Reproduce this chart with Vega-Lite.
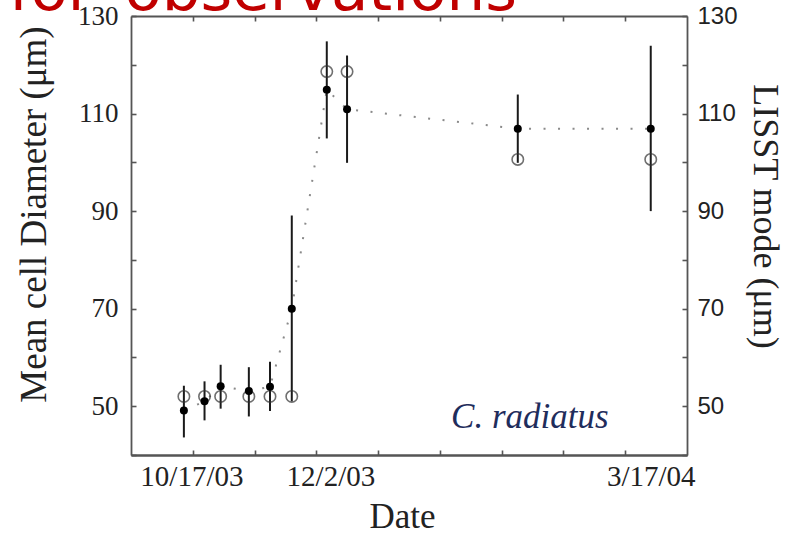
{
  "$schema": "https://vega.github.io/schema/vega-lite/v6.json",
  "width": 556,
  "height": 439,
  "autosize": {"type": "none"},
  "padding": {"left": 131, "top": 16, "right": 105, "bottom": 78},
  "background": "white",
  "title": {
    "text": "Mean cell size for \u2009observations",
    "anchor": "start",
    "frame": "group",
    "align": "right",
    "dx": 386,
    "dy": 69,
    "offset": 0,
    "baseline": "alphabetic",
    "font": "DejaVu Sans",
    "fontSize": 61,
    "fontWeight": "normal",
    "color": "#c00000"
  },
  "config": {
    "view": {"stroke": null},
    "axis": {
      "grid": false,
      "domainColor": "#555555",
      "domainWidth": 1.8,
      "tickColor": "#555555",
      "tickWidth": 1.6,
      "labelColor": "#222222",
      "titleColor": "#222222",
      "titleFontWeight": "normal",
      "labelOverlap": false,
      "labelFlush": false,
      "labelBound": false
    }
  },
  "data": {
    "values": [
      {"date": "2003-10-14T12:00", "mean": 49.1, "lo": 43.6, "hi": 54.2, "lisst": 52.0},
      {"date": "2003-10-21T08:00", "mean": 51.0, "lo": 47.1, "hi": 55.1, "lisst": 52.0},
      {"date": "2003-10-26T16:00", "mean": 54.1, "lo": 49.5, "hi": 58.5, "lisst": 52.0},
      {"date": "2003-11-05T00:00", "mean": 53.1, "lo": 47.9, "hi": 58.0, "lisst": 52.0},
      {"date": "2003-11-12T00:00", "mean": 54.0, "lo": 49.0, "hi": 59.1, "lisst": 52.0},
      {"date": "2003-11-19T05:00", "mean": 70.0, "lo": 51.0, "hi": 89.1, "lisst": 52.0},
      {"date": "2003-11-30T19:00", "mean": 114.9, "lo": 104.9, "hi": 124.8, "lisst": 118.6},
      {"date": "2003-12-07T12:00", "mean": 110.9, "lo": 99.9, "hi": 121.9, "lisst": 118.6},
      {"date": "2004-02-02T00:00", "mean": 106.9, "lo": 99.9, "hi": 113.9, "lisst": 100.6},
      {"date": "2004-03-17T00:00", "mean": 106.9, "lo": 90.0, "hi": 123.9, "lisst": 100.6}
    ]
  },
  "layer": [
    {
      "mark": {"type": "line", "color": "#8a8a8a", "strokeWidth": 2, "strokeDash": [2, 12.5], "strokeCap": "butt"},
      "encoding": {
        "x": {
          "field": "date", "type": "temporal",
          "scale": {"domain": [{"year": 2003, "month": 9, "date": 27}, {"year": 2004, "month": 3, "date": 29}]},
          "axis": {
            "orient": "bottom",
            "values": [
              {"year": 2003, "month": 10, "date": 17},
              {"year": 2003, "month": 12, "date": 2},
              {"year": 2004, "month": 3, "date": 17}
            ],
            "format": "%-m/%-d/%y",
            "ticks": false,
            "labelPadding": 7,
            "labelFont": "Liberation Serif",
            "labelFontSize": 29,
            "title": "Date",
            "titleFont": "Liberation Serif",
            "titleFontSize": 35,
            "titleX": 271,
            "titleY": 72,
            "titleBaseline": "alphabetic",
            "titleAlign": "center"
          }
        },
        "y": {
          "field": "mean", "type": "quantitative",
          "scale": {"domain": [40, 130], "nice": false, "zero": false},
          "axis": {
            "orient": "left",
            "values": [40, 50, 60, 70, 80, 90, 100, 110, 120, 130],
            "labelExpr": "datum.value % 20 == 10 ? datum.label : ''",
            "tickSize": -5,
            "labelPadding": 18,
            "labelFont": "Liberation Serif",
            "labelFontSize": 27,
            "title": "Mean cell Diameter (μm)",
            "titleFont": "Liberation Serif",
            "titleFontSize": 37,
            "titleAngle": -90,
            "titleX": -86,
            "titleY": 198,
            "titleBaseline": "alphabetic",
            "titleAlign": "center"
          }
        }
      }
    },
    {
      "mark": {"type": "rule", "color": "#1a1a1a", "strokeWidth": 2},
      "encoding": {
        "x": {
          "field": "date", "type": "temporal",
          "scale": {"domain": [{"year": 2003, "month": 9, "date": 27}, {"year": 2004, "month": 3, "date": 29}]},
          "axis": {
            "orient": "bottom",
            "values": [
              {"year": 2003, "month": 10, "date": 17, "hours": 10, "minutes": 40},
              {"year": 2003, "month": 11, "date": 6, "hours": 21, "minutes": 20},
              {"year": 2003, "month": 11, "date": 27, "hours": 8},
              {"year": 2003, "month": 12, "date": 17, "hours": 18, "minutes": 40},
              {"year": 2004, "month": 1, "date": 7, "hours": 5, "minutes": 20},
              {"year": 2004, "month": 1, "date": 27, "hours": 16},
              {"year": 2004, "month": 2, "date": 17, "hours": 2, "minutes": 40},
              {"year": 2004, "month": 3, "date": 8, "hours": 13, "minutes": 20}
            ],
            "labels": false,
            "tickSize": -5,
            "title": null
          }
        },
        "y": {
          "field": "lo", "type": "quantitative",
          "scale": {"domain": [40, 130], "nice": false, "zero": false},
          "axis": {
            "orient": "right",
            "values": [40, 50, 60, 70, 80, 90, 100, 110, 120, 130],
            "labelExpr": "datum.value % 20 == 10 ? datum.label : ''",
            "tickSize": -5,
            "labelPadding": 15,
            "labelFont": "Liberation Sans",
            "labelFontSize": 24,
            "title": "LISST mode (μm)",
            "titleFont": "Liberation Serif",
            "titleFontSize": 36,
            "titleAngle": 90,
            "titleX": 66,
            "titleY": 200,
            "titleBaseline": "alphabetic",
            "titleAlign": "center"
          }
        },
        "y2": {"field": "hi"}
      }
    },
    {
      "mark": {"type": "point", "shape": "circle", "filled": false, "size": 130, "stroke": "#333333", "strokeWidth": 1.6},
      "encoding": {
        "x": {
          "field": "date", "type": "temporal",
          "scale": {"domain": [{"year": 2003, "month": 9, "date": 27}, {"year": 2004, "month": 3, "date": 29}]},
          "axis": {
            "orient": "top",
            "values": [
              {"year": 2003, "month": 10, "date": 17, "hours": 10, "minutes": 40},
              {"year": 2003, "month": 11, "date": 6, "hours": 21, "minutes": 20},
              {"year": 2003, "month": 11, "date": 27, "hours": 8},
              {"year": 2003, "month": 12, "date": 17, "hours": 18, "minutes": 40},
              {"year": 2004, "month": 1, "date": 7, "hours": 5, "minutes": 20},
              {"year": 2004, "month": 1, "date": 27, "hours": 16},
              {"year": 2004, "month": 2, "date": 17, "hours": 2, "minutes": 40},
              {"year": 2004, "month": 3, "date": 8, "hours": 13, "minutes": 20}
            ],
            "labels": false,
            "tickSize": -5,
            "title": null
          }
        },
        "y": {
          "field": "lisst", "type": "quantitative",
          "scale": {"domain": [40, 130], "nice": false, "zero": false},
          "axis": null
        }
      }
    },
    {
      "mark": {"type": "circle", "size": 64, "color": "#000000", "opacity": 1},
      "encoding": {
        "x": {
          "field": "date", "type": "temporal",
          "scale": {"domain": [{"year": 2003, "month": 9, "date": 27}, {"year": 2004, "month": 3, "date": 29}]},
          "axis": null
        },
        "y": {
          "field": "mean", "type": "quantitative",
          "scale": {"domain": [40, 130], "nice": false, "zero": false},
          "axis": null
        }
      }
    },
    {
      "data": {"values": [{"date": "2004-02-06T00:00", "value": 45.6, "label": "C. radiatus"}]},
      "mark": {"type": "text", "font": "Liberation Serif", "fontStyle": "italic", "fontSize": 35, "color": "#1f2d5c", "align": "center", "baseline": "alphabetic"},
      "encoding": {
        "x": {
          "field": "date", "type": "temporal",
          "scale": {"domain": [{"year": 2003, "month": 9, "date": 27}, {"year": 2004, "month": 3, "date": 29}]},
          "axis": null
        },
        "y": {
          "field": "value", "type": "quantitative",
          "scale": {"domain": [40, 130], "nice": false, "zero": false},
          "axis": null
        },
        "text": {"field": "label"}
      }
    }
  ],
  "resolve": {"axis": {"x": "independent", "y": "independent"}}
}
